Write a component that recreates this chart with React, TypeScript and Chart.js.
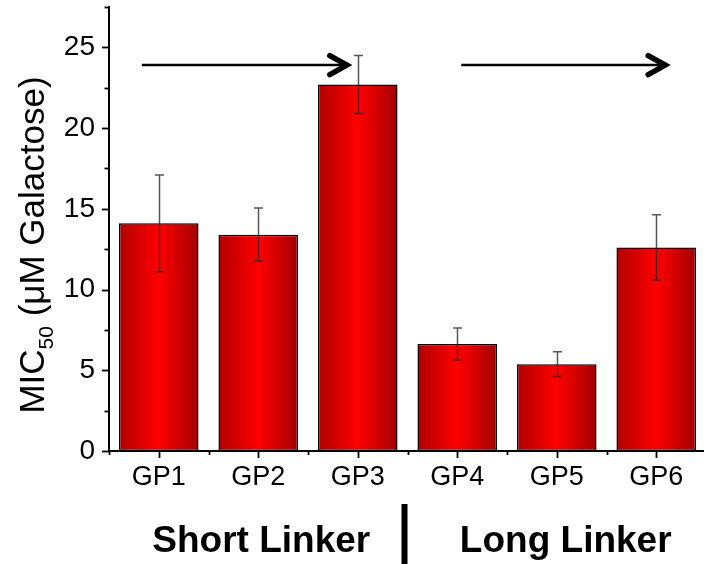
import React, { useEffect, useRef } from "react";
import { Chart, registerables } from "chart.js";

Chart.register(...registerables);

// ---- data ----
const categories = ["GP1", "GP2", "GP3", "GP4", "GP5", "GP6"];
const micValues = [14.1, 13.4, 22.7, 6.62, 5.38, 12.6];
const micErrors = [3.0, 1.65, 1.8, 1.0, 0.77, 2.03];
const yMin = 0;
const yMax = 27.5;
const yStep = 2.5;
const yLabelEvery = 5;
const titleMain = "MIC";
const titleSub = "50";
const titleRest = " (\u03BCM Galactose)";
const groupLabels = ["Short Linker", "Long Linker"];
const groupCenters = [1.03, 4.09]; // category units
const groupDivider = 2.47; // category units
const arrowLevel = 23.9;
const arrowStart = [-0.17, 3.04];
const arrowEnd = [1.92, 5.12];

const FONT = "'Liberation Sans', Arial, Helvetica, sans-serif";

const customDraw = {
  id: "customDraw",
  afterDatasetsDraw(chart: any) {
    const { ctx, scales } = chart;
    const xs = scales.x;
    const ys = scales.y;
    // error bars
    ctx.save();
    ctx.strokeStyle = "rgba(40,40,40,0.78)";
    ctx.lineWidth = 1.5;
    micValues.forEach((v, i) => {
      const cx = Math.round(xs.getPixelForValue(i)) + 0.5;
      const yT = ys.getPixelForValue(v + micErrors[i]);
      const yB = ys.getPixelForValue(v - micErrors[i]);
      ctx.beginPath();
      ctx.moveTo(cx, yT);
      ctx.lineTo(cx, yB);
      ctx.moveTo(cx - 4.5, yT);
      ctx.lineTo(cx + 4.5, yT);
      ctx.moveTo(cx - 4.5, yB);
      ctx.lineTo(cx + 4.5, yB);
      ctx.stroke();
    });
    ctx.restore();
  },
  afterDraw(chart: any) {
    const { ctx, scales, chartArea } = chart;
    const xs = scales.x;
    const ys = scales.y;
    ctx.save();
    ctx.strokeStyle = "#000";
    ctx.lineWidth = 1.8;
    // y ticks
    for (let v = yMin; v <= yMax + 1e-9; v += yStep) {
      const y = Math.round(ys.getPixelForValue(v)) + 0.5;
      const major = Math.abs(v / yLabelEvery - Math.round(v / yLabelEvery)) < 1e-6;
      const len = major ? 7 : 4.5;
      ctx.beginPath();
      ctx.moveTo(chartArea.left, y);
      ctx.lineTo(chartArea.left - len, y);
      ctx.stroke();
    }
    // x ticks
    for (let i = 0; i < categories.length; i++) {
      const x = Math.round(xs.getPixelForValue(i)) + 0.5;
      ctx.beginPath();
      ctx.moveTo(x, chartArea.bottom);
      ctx.lineTo(x, chartArea.bottom + 7);
      ctx.stroke();
    }
    for (let i = 0; i <= categories.length; i++) {
      const x = Math.round(xs.getPixelForValue(i - 0.5)) + 0.5;
      ctx.beginPath();
      ctx.moveTo(x, chartArea.bottom);
      ctx.lineTo(x, chartArea.bottom + 4);
      ctx.stroke();
    }
    // arrows
    const ay = ys.getPixelForValue(arrowLevel);
    arrowStart.forEach((s, k) => {
      const x0 = xs.getPixelForValue(s);
      const x1 = xs.getPixelForValue(arrowEnd[k]);
      ctx.strokeStyle = "#000";
      ctx.lineWidth = 2.5;
      ctx.lineCap = "butt";
      ctx.beginPath();
      ctx.moveTo(x0, ay);
      ctx.lineTo(x1 - 4, ay);
      ctx.stroke();
      ctx.lineWidth = 5.5;
      ctx.lineCap = "round";
      ctx.lineJoin = "miter";
      ctx.beginPath();
      ctx.moveTo(x1 - 20, ay - 9.5);
      ctx.lineTo(x1 - 3, ay);
      ctx.lineTo(x1 - 20, ay + 9.5);
      ctx.stroke();
    });
    // group labels
    ctx.fillStyle = "#000";
    ctx.font = `bold 37px ${FONT}`;
    ctx.textAlign = "center";
    ctx.textBaseline = "alphabetic";
    groupLabels.forEach((t, k) => {
      ctx.fillText(t, xs.getPixelForValue(groupCenters[k]), 552);
    });
    const dx = xs.getPixelForValue(groupDivider);
    ctx.fillRect(dx - 3, 504, 6, 62);
    // y title
    const mainFont = `35px ${FONT}`;
    const subFont = `21px ${FONT}`;
    ctx.font = mainFont;
    const w1 = ctx.measureText(titleMain).width;
    const w3 = ctx.measureText(titleRest).width;
    ctx.font = subFont;
    const w2 = ctx.measureText(titleSub).width;
    const total = w1 + w2 + w3;
    const cy = (chartArea.top + chartArea.bottom) / 2 + 16;
    ctx.translate(44, cy);
    ctx.rotate(-Math.PI / 2);
    ctx.textAlign = "left";
    let x = -total / 2;
    ctx.font = mainFont;
    ctx.fillText(titleMain, x, 0);
    x += w1;
    ctx.font = subFont;
    ctx.fillText(titleSub, x, 9);
    x += w2;
    ctx.font = mainFont;
    ctx.fillText(titleRest, x, 0);
    ctx.restore();
  },
};

export default function App() {
  const ref = useRef<HTMLCanvasElement | null>(null);
  useEffect(() => {
    if (!ref.current) return;
    const chart = new Chart(ref.current, {
      type: "bar",
      data: {
        labels: categories,
        datasets: [
          {
            data: micValues,
            backgroundColor: (c: any) => {
              const ch = c.chart;
              const xs = ch.scales?.x;
              if (!ch.chartArea || !xs || c.dataIndex == null) return "#e00000";
              const cx = xs.getPixelForValue(c.dataIndex);
              const w = (xs.width / categories.length) * 0.8;
              const g = ch.ctx.createLinearGradient(cx - w / 2, 0, cx + w / 2, 0);
              g.addColorStop(0, "#b00000");
              g.addColorStop(0.5, "#ff0000");
              g.addColorStop(1, "#a30000");
              return g;
            },
            borderColor: "#000",
            borderWidth: 1.5,
            borderSkipped: false,
            categoryPercentage: 1,
            barPercentage: 0.8,
          },
        ],
      },
      options: {
        responsive: false,
        animation: false,
        devicePixelRatio: 1,
        layout: { padding: { top: 7, right: 14, left: 0, bottom: 0 } },
        plugins: { legend: { display: false }, tooltip: { enabled: false } },
        scales: {
          x: {
            grid: { display: false, drawTicks: false },
            border: { display: true, color: "#000", width: 2 },
            ticks: {
              color: "#000",
              font: { family: FONT, size: 27 },
              padding: 10,
              maxRotation: 0,
              autoSkip: false,
            },
            afterFit: (s: any) => {
              s.height = 113;
              s.paddingLeft = 0;
              s.paddingRight = 0;
            },
          },
          y: {
            min: yMin,
            max: yMax,
            grid: { display: false, drawTicks: false },
            border: { display: true, color: "#000", width: 2 },
            ticks: {
              stepSize: yStep,
              autoSkip: false,
              color: "#000",
              font: { family: FONT, size: 28 },
              padding: 14,
              callback: (v: any) => {
                const n = Number(v);
                return Math.abs(n / yLabelEvery - Math.round(n / yLabelEvery)) < 1e-6 ? String(n) : "";
              },
            },
            afterFit: (s: any) => {
              s.width = 109;
              s.paddingTop = 0;
              s.paddingBottom = 0;
            },
          },
        },
      },
      plugins: [customDraw],
    });
    return () => chart.destroy();
  }, []);
  return (
    <div
      style={{
        position: "fixed",
        left: 0,
        top: 0,
        width: 704,
        height: 564,
        overflow: "hidden",
        background: "#fff",
      }}
    >
      <canvas ref={ref} width={720} height={564} style={{ display: "block", width: 720, height: 564 }} />
    </div>
  );
}
